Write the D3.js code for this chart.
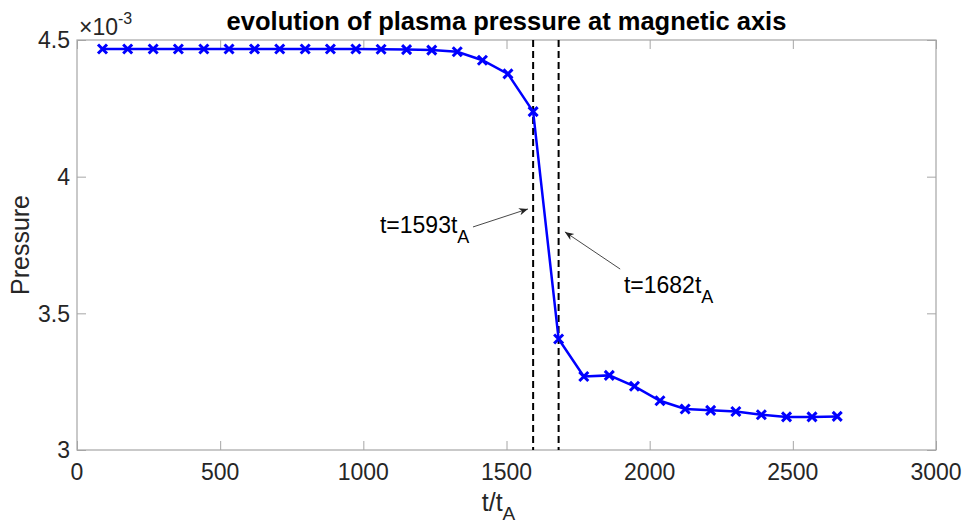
<!DOCTYPE html>
<head>
    <meta charset="utf-8">
    <script src="https://d3js.org/d3.v7.min.js"></script>
    <style>
        html, body { padding: 0; margin: 0; background: #fff; }
        svg { display: block; font-family: "Liberation Sans", Arial, sans-serif; }
        .tick-label { font-size: 23px; fill: #262626; }
        .axis-box { fill: none; stroke: #a6a6a6; stroke-width: 1.2; }
    </style>
</head>
<body>
<svg width="965" height="524"></svg>
<script>
    // time samples (t/tA) and pressure at the magnetic axis (x 1e-3)
    var tValues = [89, 177, 266, 354, 443, 531, 620, 708, 797, 885,
                   974, 1062, 1151, 1239, 1328, 1416, 1505, 1593, 1682, 1770,
                   1859, 1947, 2036, 2124, 2213, 2301, 2390, 2478, 2567, 2655];
    var pressure = [4.467, 4.467, 4.467, 4.467, 4.467, 4.467, 4.467, 4.467, 4.467, 4.467,
                    4.467, 4.466, 4.465, 4.463, 4.457, 4.426, 4.376, 4.238, 3.406, 3.269,
                    3.273, 3.233, 3.180, 3.150, 3.145, 3.141, 3.129, 3.121, 3.121, 3.123];
    var xTicks = [0, 500, 1000, 1500, 2000, 2500, 3000];
    var yTicks = [3, 3.5, 4, 4.5];
    var markerTimes = [1593, 1682];
    // annotation text, text anchor, arrow tail and arrow head (data units)
    var notes = [
        {label: "1593", tx: 1058, ty: 3.794, fx: 1383, fy: 3.816, ax: 1575, ay: 3.882},
        {label: "1682", tx: 1910, ty: 3.574, fx: 1897, fy: 3.662, ax: 1704, ay: 3.798}
    ];

    var margin = {top: 40, right: 29, bottom: 74, left: 77};
    var width = 965 - margin.left - margin.right;
    var height = 524 - margin.top - margin.bottom;

    var svg = d3.select("svg");
    svg.append("defs").append("marker")
        .attr("id", "arrow")
        .attr("viewBox", "0 0 10 10")
        .attr("refX", 10).attr("refY", 5)
        .attr("markerWidth", 9).attr("markerHeight", 9)
        .attr("markerUnits", "userSpaceOnUse")
        .attr("orient", "auto")
        .append("path")
        .attr("d", "M0,1 L10,5 L0,9 L3,5 Z")
        .attr("fill", "#222");

    var g = svg.append("g")
        .attr("transform", "translate(" + margin.left + "," + margin.top + ")");

    var xRange = d3.scaleLinear().domain([0, 3000]).range([0, width]);
    var yRange = d3.scaleLinear().domain([3, 4.5]).range([height, 0]);

    function tidy(a) {
        a.select(".domain").remove();
        a.selectAll("line").attr("stroke", "#a6a6a6");
    }

    // ticks on all four sides, pointing inward
    g.append("g")
        .attr("transform", "translate(0," + height + ")")
        .call(d3.axisTop(xRange).tickValues(xTicks).tickSize(9).tickFormat(""))
        .call(tidy);
    g.append("g")
        .call(d3.axisBottom(xRange).tickValues(xTicks).tickSize(9).tickFormat(""))
        .call(tidy);
    g.append("g")
        .call(d3.axisRight(yRange).tickValues(yTicks).tickSize(9).tickFormat(""))
        .call(tidy);
    g.append("g")
        .attr("transform", "translate(" + width + ",0)")
        .call(d3.axisLeft(yRange).tickValues(yTicks).tickSize(9).tickFormat(""))
        .call(tidy);

    g.append("rect").attr("class", "axis-box")
        .attr("x", 0).attr("y", 0).attr("width", width).attr("height", height);

    g.selectAll(".xlab").data(xTicks).enter().append("text")
        .attr("class", "tick-label")
        .attr("x", function(d) { return xRange(d); })
        .attr("y", height + 30)
        .attr("text-anchor", "middle")
        .text(function(d) { return d; });

    g.selectAll(".ylab").data(yTicks).enter().append("text")
        .attr("class", "tick-label")
        .attr("x", -7)
        .attr("y", function(d) { return yRange(d); })
        .attr("dy", "0.36em")
        .attr("text-anchor", "end")
        .text(function(d) { return d; });

    // exponent label
    var expo = g.append("text").attr("class", "tick-label").attr("x", 2).attr("y", -5);
    expo.append("tspan").text("\u00d710");
    expo.append("tspan").attr("dy", -11).style("font-size", "16px").text("-3");

    // dashed reference lines
    g.selectAll(".vline").data(markerTimes).enter().append("line")
        .attr("x1", function(d) { return xRange(d); })
        .attr("x2", function(d) { return xRange(d); })
        .attr("y1", 0).attr("y2", height)
        .attr("stroke", "#000").attr("stroke-width", 2)
        .attr("stroke-dasharray", "7,4");

    var pts = tValues.map(function(t, i) { return {t: t, p: pressure[i]}; });

    var line = d3.line()
        .x(function(d) { return xRange(d.t); })
        .y(function(d) { return yRange(d.p); });

    g.append("path").datum(pts)
        .attr("d", line)
        .attr("fill", "none")
        .attr("stroke", "#0000ff")
        .attr("stroke-width", 2.5);

    g.selectAll(".mk").data(pts).enter().append("path")
        .attr("transform", function(d) { return "translate(" + xRange(d.t) + "," + yRange(d.p) + ")"; })
        .attr("d", "M-4.5,-4.5L4.5,4.5M-4.5,4.5L4.5,-4.5")
        .attr("stroke", "#0000ff")
        .attr("stroke-width", 3);

    // annotations
    notes.forEach(function(n) {
        g.append("line")
            .attr("x1", xRange(n.fx)).attr("y1", yRange(n.fy))
            .attr("x2", xRange(n.ax)).attr("y2", yRange(n.ay))
            .attr("stroke", "#333").attr("stroke-width", 0.9)
            .attr("marker-end", "url(#arrow)");
        var t = g.append("text")
            .attr("x", xRange(n.tx)).attr("y", yRange(n.ty))
            .style("font-size", "23px").attr("fill", "#000");
        t.append("tspan").text("t=" + n.label + "t");
        t.append("tspan").attr("dy", 10).style("font-size", "18px").text("A");
    });

    // title and axis labels
    svg.append("text")
        .attr("x", margin.left + width / 2).attr("y", 30)
        .attr("text-anchor", "middle")
        .style("font-size", "25.5px").style("font-weight", "bold")
        .attr("fill", "#000")
        .text("evolution of plasma pressure at magnetic axis");

    var xl = svg.append("text")
        .attr("x", margin.left + width / 2 - 8).attr("y", 511)
        .attr("text-anchor", "middle")
        .style("font-size", "25px").attr("fill", "#262626");
    xl.append("tspan").text("t/t");
    xl.append("tspan").attr("dy", 9).style("font-size", "19px").text("A");

    svg.append("text")
        .attr("transform", "translate(29," + (margin.top + height / 2) + ") rotate(-90)")
        .attr("text-anchor", "middle")
        .style("font-size", "25px").attr("fill", "#262626")
        .text("Pressure");
</script>
</body>
